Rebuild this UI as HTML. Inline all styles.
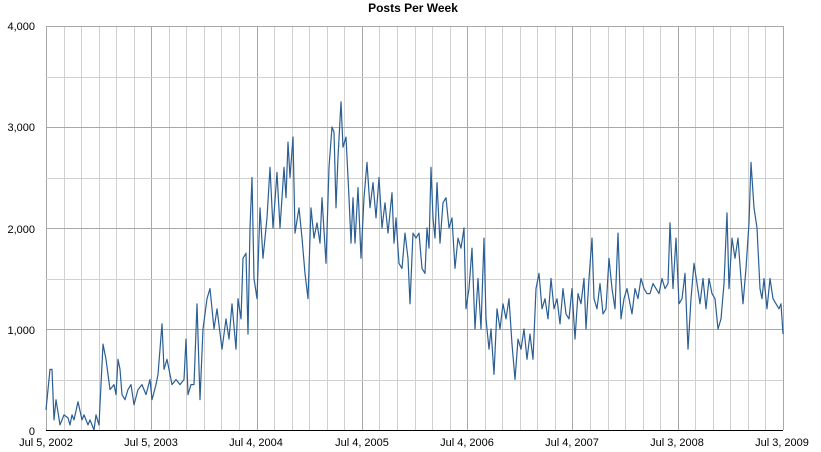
<!DOCTYPE html>
<html><head><meta charset="utf-8"><style>
html,body{margin:0;padding:0;background:#fff;}
svg{display:block;font-family:"Liberation Sans",sans-serif;}
</style></head><body>
<svg id="s" width="821" height="452" viewBox="0 0 821 452" xmlns="http://www.w3.org/2000/svg">
<text x="413" y="12" text-anchor="middle" font-size="12" font-weight="bold" fill="#000">Posts Per Week</text>
<g id="grid"></g>
<polyline id="line" fill="none" stroke="#2b5f93" stroke-width="1.2" stroke-linejoin="round"/>
<line x1="46" y1="430.5" x2="783" y2="430.5" stroke="#000" stroke-width="1"/>
<g font-size="11" fill="#000" text-anchor="end">
<text x="35" y="30">4,000</text>
<text x="35" y="131">3,000</text>
<text x="35" y="233">2,000</text>
<text x="35" y="334">1,000</text>
<text x="35" y="435">0</text>
</g>
<g font-size="11" fill="#000" text-anchor="middle">
<text x="46" y="446">Jul 5, 2002</text>
<text x="151" y="446">Jul 5, 2003</text>
<text x="256" y="446">Jul 4, 2004</text>
<text x="362" y="446">Jul 4, 2005</text>
<text x="467" y="446">Jul 4, 2006</text>
<text x="572" y="446">Jul 4, 2007</text>
<text x="677" y="446">Jul 3, 2008</text>
<text x="782" y="446">Jul 3, 2009</text>
</g>
</svg>
<script>
var g=document.getElementById('grid'),h='';
var L=46,R=783,T=26,B=430,step=(R-L)/7;
for(var i=0;i<=42;i++){var x=Math.round(L+step*i/6)+0.5;var maj=i%6==0;
h+='<line x1="'+x+'" y1="'+T+'" x2="'+x+'" y2="'+B+'" stroke="'+(maj?'#a8a8a8':'#d0d0d0')+'"/>';}
for(var j=0;j<8;j++){var y=Math.round(T+j*(B-T)/8)+0.5;var maj=j%2==0;
h+='<line x1="'+L+'" y1="'+y+'" x2="'+R+'" y2="'+y+'" stroke="'+(maj?'#a8a8a8':'#d0d0d0')+'"/>';}
g.innerHTML=h;
var d=[46,200,50,600,52,600,54,100,56,300,60,50,64,150,68,120,70,50,72,150,74,100,78,280,82,100,84,150,88,50,90,100,94,0,96,150,99,50,103,850,106,700,110,400,114,450,116,350,118,700,120,600,122,350,125,300,128,400,131,450,134,250,138,400,142,450,146,350,150,500,152,300,156,450,158,550,162,1050,164,600,167,700,172,450,176,500,180,450,184,500,186,900,188,350,191,450,194,450,197,1250,200,300,203,1000,207,1300,210,1400,214,1000,217,1200,222,800,226,1100,229,900,232,1250,236,800,238,1300,241,1100,243,1700,246,1750,248,950,250,2000,252,2500,254,1500,257,1300,260,2200,263,1700,267,2100,270,2600,273,2000,277,2550,280,2000,284,2600,286,2300,288,2850,290,2500,293,2900,295,1950,299,2200,302,1900,305,1550,308,1300,311,2200,314,1900,317,2050,320,1850,322,2300,326,1650,329,2600,332,3000,334,2950,336,2200,338,2700,341,3250,343,2800,346,2900,349,2300,351,1850,353,2300,355,1850,358,2400,361,1700,364,2300,367,2650,370,2200,373,2450,376,2100,379,2500,382,2000,385,2250,388,1950,392,2350,394,1850,396,2100,399,1650,402,1600,405,1950,408,1700,410,1250,413,1950,416,1900,419,1950,422,1600,425,1550,427,2000,429,1800,431,2600,433,2100,435,1900,437,2450,440,1850,443,2250,446,2300,449,2000,452,2100,455,1600,458,1900,461,1800,464,2000,466,1200,469,1400,472,1800,475,1000,478,1500,481,1000,484,1900,486,1100,489,800,491,1000,494,550,497,1200,500,1000,503,1250,506,1100,509,1300,512,850,515,500,518,900,521,800,524,1000,527,700,530,950,533,700,536,1400,539,1550,542,1200,545,1300,548,1100,551,1500,554,1200,557,1300,560,1050,563,1400,566,1150,569,1100,572,1400,575,900,578,1350,581,1250,584,1500,586,1000,589,1500,592,1900,594,1300,597,1200,600,1450,603,1150,606,1200,609,1700,612,1400,615,1200,618,1950,621,1100,624,1300,627,1400,629,1300,632,1150,635,1400,638,1300,641,1500,644,1400,647,1350,650,1350,653,1450,656,1400,659,1350,662,1500,665,1400,668,1450,670,2050,673,1400,676,1900,679,1250,682,1300,685,1550,688,800,691,1300,694,1650,697,1450,700,1250,703,1500,706,1200,709,1500,712,1350,715,1300,718,1000,721,1100,724,1450,727,2150,729,1400,732,1900,735,1700,738,1900,741,1500,743,1250,746,1600,749,2050,751,2650,754,2200,757,2000,760,1400,762,1300,764,1500,767,1200,770,1500,773,1300,776,1250,779,1200,781,1250,783,950];
var p=[];for(var k=0;k<d.length;k+=2){p.push(d[k]+','+(B-d[k+1]*(B-T)/4000).toFixed(1));}
document.getElementById('line').setAttribute('points',p.join(' '));
</script>
</body></html>
